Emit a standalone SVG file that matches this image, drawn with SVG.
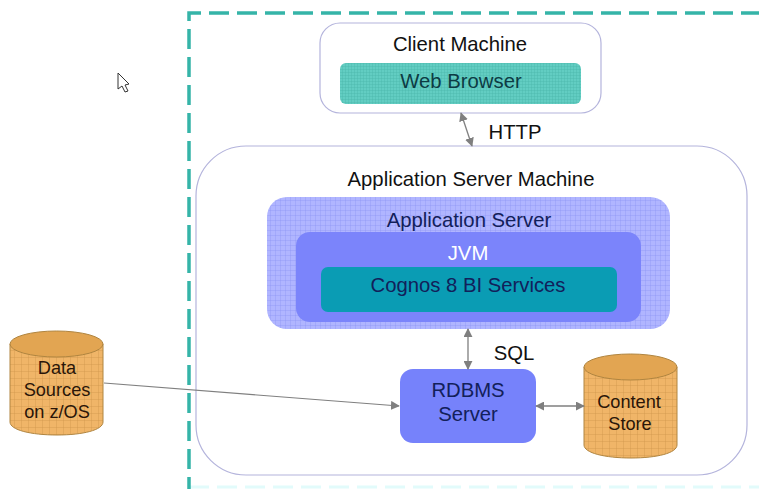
<svg xmlns="http://www.w3.org/2000/svg" width="759" height="489" viewBox="0 0 759 489">
<style>
text{font-family:"Liberation Sans",Arial,sans-serif;font-size:20.300px;text-anchor:middle;fill:#111}
.dark{fill:#12205a}
.small{font-size:18.200px;fill:#2a1608}
.outline{fill:#fff;stroke:#b4b4dc;stroke-width:1.200}
.conn{fill:none;stroke:#7f7f7f;stroke-width:1.300;marker-start:url(#a);marker-end:url(#a)}
.cyl{fill:url(#orange);stroke:#b08540;stroke-width:1}
.cyltop{fill:#e2a552;stroke:#b08540;stroke-width:1}
</style>
<defs>
<marker id="a" viewBox="0 0 10 10" refX="9" refY="5" markerUnits="userSpaceOnUse" markerWidth="9" markerHeight="9" orient="auto-start-reverse"><path d="M0 0L10 5L0 10z" fill="#7f7f7f"/></marker>
<pattern id="teal" width="3" height="3" patternUnits="userSpaceOnUse"><rect width="3" height="3" fill="#62cdc2"/><path d="M0 0H3M0 0V3" stroke="#46b5a9" stroke-width=".7"/></pattern>
<pattern id="blue" width="5" height="5" patternUnits="userSpaceOnUse"><rect width="5" height="5" fill="#b0b5ff"/><path d="M0 0H5M0 0V5" stroke="#8a90f2" stroke-width=".7"/></pattern>
<pattern id="orange" width="7" height="7" patternUnits="userSpaceOnUse"><rect width="7" height="7" fill="#f0b568"/><path d="M0 0H7M0 0V7" stroke="#cc9248" stroke-width=".7"/></pattern>
</defs>
<rect width="759" height="489" fill="#fff"/>
<path d="M189 487H759" fill="none" stroke="#e2fbfb" stroke-width="3" stroke-dasharray="20 8"/>
<path d="M189 489V13H759" fill="none" stroke="#35b4a8" stroke-width="3.500" stroke-dasharray="20 8" stroke-dashoffset="8"/>
<g id="cursor"><path d="M118 73V89L122 86L125 92L128 91L125 85L129 84Z" fill="#fff" stroke="#333" stroke-width="1"/></g>
<g id="client-machine"><rect class="outline" x="320" y="23" width="281" height="90" rx="20"/><text x="460" y="51">Client Machine</text></g>
<g id="web-browser"><rect x="340" y="63" width="241" height="41" rx="6" fill="url(#teal)"/><text x="461" y="88" style="fill:#0d3b44">Web Browser</text></g>
<g id="app-server-machine"><rect class="outline" x="196" y="146" width="551" height="329" rx="50"/><text x="471" y="186">Application Server Machine</text></g>
<g id="app-server"><rect x="267" y="197" width="403" height="132" rx="20" fill="url(#blue)"/><text class="dark" x="469" y="227">Application Server</text></g>
<g id="jvm"><rect x="296" y="232" width="345" height="90" rx="14" fill="#7b84fb"/><text x="468" y="260" style="fill:#fff">JVM</text></g>
<g id="cognos"><rect x="321" y="267" width="296" height="45" rx="7" fill="#0a9cb4"/><text class="dark" x="468" y="292">Cognos 8 BI Services</text></g>
<g id="rdbms"><rect x="400" y="369" width="136" height="74" rx="13" fill="#7682fb"/><text class="dark" x="468" y="397">RDBMS</text><text class="dark" x="468" y="421">Server</text></g>
<g id="content-store"><path class="cyl" d="M584 367V445C584 453 605 458 631 458S677 453 677 445V367Z"/><ellipse class="cyltop" cx="630.500" cy="367" rx="46.500" ry="13"/><text class="small" x="629" y="408">Content</text><text class="small" x="630" y="430">Store</text></g>
<g id="data-sources"><path class="cyl" d="M10 344V422C10 430 31 435 57 435S103 430 103 422V344Z"/><ellipse class="cyltop" cx="56.500" cy="344" rx="46.500" ry="13"/><text class="small" x="57" y="374">Data</text><text class="small" x="57" y="396">Sources</text><text class="small" x="57" y="418">on z/OS</text></g>
<g id="connectors">
<path class="conn" d="M461 113L472 146"/>
<path class="conn" d="M468 329V369"/>
<path class="conn" d="M536 406H584"/>
<path d="M104 383L399 406" fill="none" stroke="#7f7f7f" stroke-width="1.100" marker-end="url(#a)"/>
</g>
<g id="labels"><text x="515" y="139">HTTP</text><text x="514" y="360">SQL</text></g>
</svg>
